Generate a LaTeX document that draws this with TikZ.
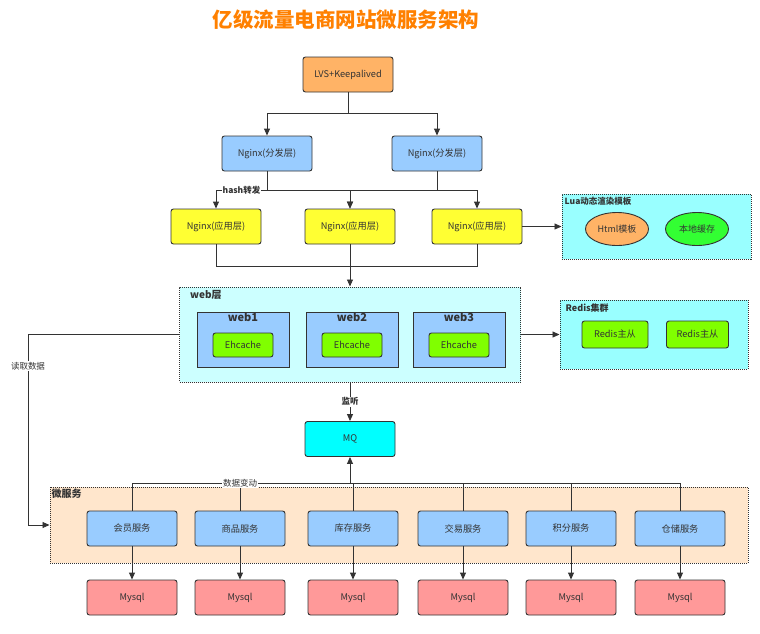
\documentclass[tikz,border=0pt]{standalone}
\usepackage{fontspec}
\setmainfont{Noto Sans CJK SC}
\usetikzlibrary{arrows.meta, positioning, shapes.geometric}
\definecolor{lineclr}{HTML}{333333}
\definecolor{lvsclr}{HTML}{FFB366}
\definecolor{blueclr}{HTML}{99CCFF}
\definecolor{yellowclr}{HTML}{FFFF33}
\definecolor{cyanclr}{HTML}{99FFFF}
\definecolor{webclr}{HTML}{CCFFFF}
\definecolor{limeclr}{HTML}{80FF00}
\definecolor{greenclr}{HTML}{33FF33}
\definecolor{mqclr}{HTML}{00FFFF}
\definecolor{microclr}{HTML}{FFE6CC}
\definecolor{dbclr}{HTML}{FF9999}
\definecolor{titleclr}{HTML}{FF8000}
\tikzset{
  box/.style={rectangle,draw=lineclr,rounded corners=2.5pt,line width=0.9pt,align=center,
    minimum width=90pt,minimum height=35pt,inner sep=2pt,text=lineclr,font=\fontsize{9.2}{11}\selectfont},
  group/.style={rectangle,draw=lineclr,line width=1pt,dash pattern=on 1pt off 1pt},
  grouptitle/.style={anchor=north west,inner sep=1pt,text=lineclr,font=\bfseries\fontsize{8.5}{10}\selectfont},
  webbox/.style={rectangle,draw=lineclr,line width=1pt,fill=blueclr,minimum width=92pt,minimum height=55pt},
  cachebox/.style={box,fill=limeclr,minimum width=60pt,minimum height=24pt},
  oval/.style={ellipse,draw=lineclr,line width=0.9pt,minimum width=63pt,minimum height=33pt,inner sep=1pt,
    text=lineclr,font=\fontsize{9}{10}\selectfont},
  lbl/.style={fill=white,inner sep=1pt,text=lineclr,font=\bfseries\fontsize{8.5}{9}\selectfont},
  line/.style={-{Triangle[length=7pt,width=6pt]},draw=lineclr,line width=0.9pt},
  plain/.style={draw=lineclr,line width=0.9pt}
}

\begin{document}
\begin{tikzpicture}[x=1pt,y=-1pt]
\useasboundingbox (0,0) rectangle (760,633);
\node[text=titleclr,font=\bfseries\fontsize{20.5}{24}\selectfont] (title) at (346,20) {亿级流量电商网站微服务架构};

% entry and dispatch layers
\node[box,fill=lvsclr] (lvs) at (348,74.5) {LVS+Keepalived};
\node[box,fill=blueclr] (ngxl) at (267,153.5) {Nginx(分发层)};
\node[box,fill=blueclr] (ngxr) at (437,153.5) {Nginx(分发层)};
\node[box,fill=yellowclr] (appl) at (216,226.5) {Nginx(应用层)};
\node[box,fill=yellowclr] (appm) at (350,226.5) {Nginx(应用层)};
\node[box,fill=yellowclr] (appr) at (477,226.5) {Nginx(应用层)};

\coordinate (split) at (348,113);
\coordinate (hashl) at (267,190);
\coordinate (hashr) at (437,190);
\coordinate (merge) at (350,266);
\draw[plain] (lvs) -- (split);
\draw[line] (split) -| (ngxl);
\draw[line] (split) -| (ngxr);
\draw[plain] (ngxl) -- (hashl);
\draw[plain] (ngxr) -- (hashr);
\draw[line] (hashl) -| node[lbl,pos=0.25] (hashlbl) {hash转发} (appl);
\draw[line] (hashl) -| (appm);
\draw[line] (hashr) -| (appm);
\draw[line] (hashr) -| (appr);
\draw[plain] (appl) |- (merge);
\draw[plain] (appr) |- (merge);

% lua rendering
\node[group,fill=cyanclr,minimum width=189pt,minimum height=65pt] (luagrp) at (656.5,226.5) {};
\node[grouptitle] (luattl) at (luagrp.north west) [xshift=2pt,yshift=-2pt] {Lua动态渲染模板};
\node[oval,fill=lvsclr] (html) at (617,229) {Html模板};
\node[oval,fill=greenclr] (local) at (697,229) {本地缓存};
\draw[line] (appr) -- (luagrp);

% web layer
\node[group,fill=webclr,minimum width=341pt,minimum height=95pt] (webgrp) at (350,334.5) {};
\node[grouptitle,font=\bfseries\fontsize{10}{11}\selectfont] (webttl) at (webgrp.north west) [xshift=10pt,yshift=-3pt] {web层};
\foreach \i/\x in {1/243,2/352,3/459} {
  \node[webbox] (web\i) at (\x,339.5) {};
  \node[text=lineclr,font=\bfseries\fontsize{11}{12}\selectfont,anchor=north,inner sep=1pt] (webttl\i) at (web\i.north) {web\i};
  \node[cachebox] (cache\i) at (\x,345) {Ehcache};
}
\draw[line] (appm) -- (webgrp);

% redis
\node[group,fill=cyanclr,minimum width=188pt,minimum height=69pt] (redisgrp) at (654,334.5) {};
\node[grouptitle,font=\bfseries\fontsize{9}{10}\selectfont] (redisttl) at (redisgrp.north west) [xshift=5pt,yshift=-3pt] {Redis集群};
\node[box,fill=limeclr,minimum width=66pt,minimum height=27pt] (redis1) at (615,334.5) {Redis主从};
\node[box,fill=limeclr,minimum width=62pt,minimum height=27pt] (redis2) at (697.5,334.5) {Redis主从};
\draw[line] (webgrp) -- (redisgrp);

% message queue
\node[box,fill=mqclr] (mq) at (350,439) {MQ};
\draw[line] (webgrp) -- node[lbl] (listen) {监听} (mq);

% micro services
\node[group,fill=microclr,minimum width=698pt,minimum height=76pt] (microgrp) at (399,525) {};
\node[grouptitle,font=\bfseries\fontsize{10}{11}\selectfont] (microttl) at (microgrp.north west) [xshift=1pt,yshift=-1pt] {微服务};
\coordinate (change) at (350,483);
\coordinate (readpt) at (28,334.5);
\foreach \i/\x/\t in {1/132/会员服务,2/240/商品服务,3/353/库存服务,4/463/交易服务,5/571/积分服务,6/680/仓储服务} {
  \node[box,fill=blueclr] (svc\i) at (\x,528.5) {\t};
  \node[box,fill=dbclr] (db\i) at (\x,597.5) {Mysql};
  \draw[plain] (svc\i) |- (change);
  \draw[line] (svc\i) -- (db\i);
}
\draw[line] (change) -- (mq);
\node[lbl,font=\fontsize{8.5}{9}\selectfont] (changelbl) at (240,483) {数据变动};
\draw[line] (webgrp.west) -- (readpt) |- node[lbl,font=\fontsize{8.5}{9}\selectfont,pos=0.083] (readlbl) {读取数据} (microgrp.west);
\end{tikzpicture}
\end{document}
